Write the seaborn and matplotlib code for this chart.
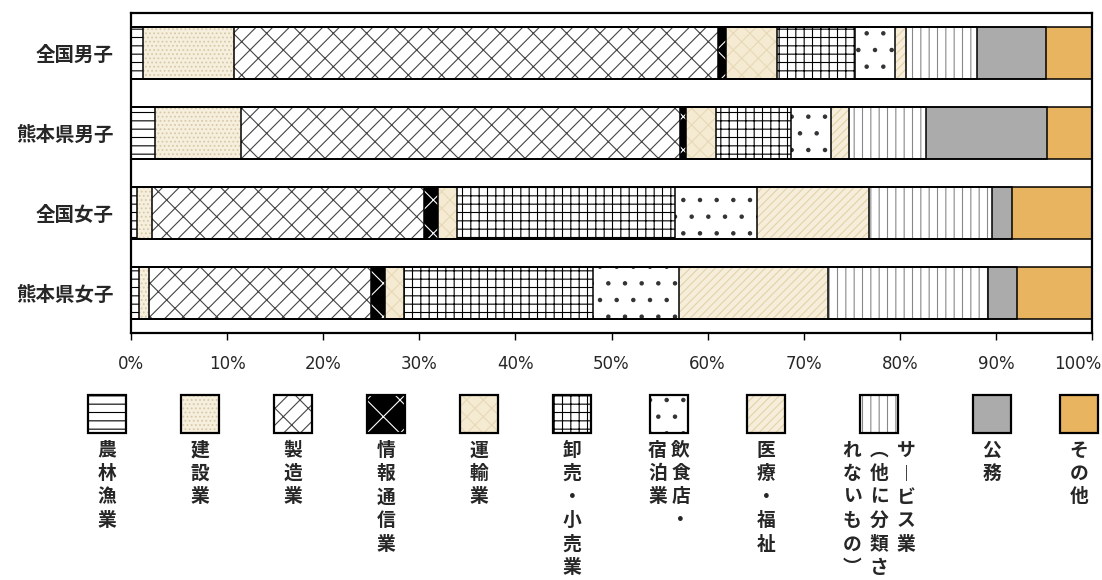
import numpy as np
import pandas as pd
import matplotlib
matplotlib.use("Agg")
import matplotlib.pyplot as plt
import matplotlib.patches as mpatches
import matplotlib.transforms as mtransforms
import seaborn as sns

# --- data (percent of employed graduates by industry) ---
groups = ["全国男子", "熊本県男子", "全国女子", "熊本県女子"]
industries = ["農林漁業", "建設業", "製造業", "情報通信業", "運輸業", "卸売・小売業",
              "飲食店・宿泊業", "医療・福祉", "サービス業（他に分類されないもの）", "公務", "その他"]
zenkoku_male = [1.2, 9.5, 50.4, 0.8, 5.3, 8.1, 4.2, 1.1, 7.4, 7.2, 4.8]
kumamoto_male = [2.5, 8.9, 45.7, 0.7, 3.1, 7.8, 4.1, 1.9, 8.0, 12.6, 4.7]
zenkoku_female = [0.6, 1.6, 28.3, 1.4, 2.0, 22.7, 8.5, 11.7, 12.8, 2.1, 8.3]
kumamoto_female = [0.8, 1.1, 23.1, 1.4, 2.0, 19.7, 8.9, 15.5, 16.7, 3.0, 7.8]
x_ticks = list(range(0, 101, 10))
# vertical legend text, columns read right to left
legend_cols = [["農林漁業"], ["建設業"], ["製造業"], ["情報通信業"], ["運輸業"], ["卸売・小売業"],
               ["飲食店・", "宿泊業"], ["医療・福祉"],
               ["サ︱ビス業", "︵他に分類さ", "れないもの︶"], ["公務"], ["その他"]]

# --- styles ---
face_colors = ["white", "#f6efdd", "white", "black", "#f5ebd3", "white",
               "white", "#f6eedb", "white", "#ababab", "#e9b45f"]
hatches = ["--", "....", "//\\", "x", "xx", "++", ".", "////", "||", None, None]
hatch_colors = ["black", "#d8caa8", "#444444", "white", "#e8d9b6", "black",
                "#333333", "#e3d2a8", "#888888", "#ababab", "#e9b45f"]

df = pd.DataFrame([zenkoku_male, kumamoto_male, zenkoku_female, kumamoto_female],
                  index=groups, columns=industries)
cum = df.cumsum(axis=1)

sns.set_style("white")
plt.rcParams["font.family"] = ["Noto Sans CJK JP", "DejaVu Sans"]
plt.rcParams["hatch.linewidth"] = 0.8

W, H = 1102, 580
fig = plt.figure(figsize=(W / 100, H / 100), dpi=100)
ax = fig.add_axes([131 / W, 1 - 333 / H, (1092 - 131) / W, (333 - 13) / H])

# stacked bars: draw cumulative bars from the longest to the shortest
for i in reversed(range(len(industries))):
    sns.barplot(x=cum.iloc[:, i].values, y=groups, orient="h", color=face_colors[i],
                saturation=1, edgecolor=hatch_colors[i], linewidth=0, hatch=hatches[i],
                width=0.64, errorbar=None, ax=ax)
# segment outlines
for i in range(len(industries)):
    sns.barplot(x=cum.iloc[:, i].values, y=groups, orient="h", fill=False, color="black",
                linewidth=1.1, width=0.64, errorbar=None, ax=ax)

ax.set_xlim(0, 100)
ax.set_xticks(x_ticks)
ax.set_xticklabels([f"{t}%" for t in x_ticks], fontfamily="DejaVu Sans", fontsize=12)
ax.set_xlabel("")
ax.set_ylabel("")
ax.tick_params(axis="x", bottom=True, length=5, width=1, pad=11, color="black")
ax.tick_params(axis="y", left=False, pad=9, labelsize=14)
for lab in ax.get_yticklabels():
    lab.set_fontweight("bold")
# keep "100%" inside the figure
last = ax.get_xticklabels()[-1]
last.set_transform(last.get_transform() +
                   mtransforms.ScaledTranslation(-14 / 100, 0, fig.dpi_scale_trans))
for s in ax.spines.values():
    s.set_visible(True)
    s.set_color("black")
    s.set_linewidth(1.6)

# --- legend below the chart ---
patch_cx = [107, 200, 293, 386, 479, 572, 669, 766, 879, 992, 1079]
size = 38
top = 395
for i, cx in enumerate(patch_cx):
    x0 = (cx - size / 2) / W
    y0 = 1 - (top + size) / H
    fig.add_artist(mpatches.Rectangle((x0, y0), size / W, size / H, transform=fig.transFigure,
                                      facecolor=face_colors[i], edgecolor=hatch_colors[i],
                                      hatch=hatches[i], linewidth=0))
    fig.add_artist(mpatches.Rectangle((x0, y0), size / W, size / H, transform=fig.transFigure,
                                      fill=False, edgecolor="black", linewidth=1.6))
    cols = legend_cols[i]
    step = 27 if len(cols) == 3 else 23
    for j, col in enumerate(cols):
        tx = cx + (len(cols) - 1) * step / 2 - j * step
        for k, ch in enumerate(col):
            fig.text(tx / W, 1 - (450 + 23.5 * k) / H, ch, ha="center", va="center",
                     fontsize=13.5, fontweight="bold")

fig.savefig("out.png", dpi=100)
